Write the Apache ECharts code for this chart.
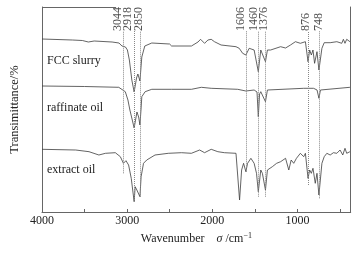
<!DOCTYPE html>
<html>
<head>
<meta charset="utf-8">
<script src="https://cdn.jsdelivr.net/npm/echarts@6/dist/echarts.min.js"></script>
<style>
html,body{margin:0;padding:0;background:#fff;}
#chart{width:356px;height:253px;}
</style>
</head>
<body>
<div id="chart"></div>
<script>
// ---- data (wavenumber cm^-1, transmittance in arbitrary offset units) ----
const fccWave = [4000,3643,3526,3456,3387,3177,3096,3061,3044,3020,2997,2974,2945,2918,2890,2874,2850,2840,2828,2793,2711,2502,2478,2245,2168,2138,2091,2051,2013,1975,1897,1722,1684,1644,1606,1567,1509,1460,1431,1376,1353,1315,1198,1140,1082,1024,966,907,876,857,837,818,799,771,748,713,686,616,538,480,461,442,422,384];
const fccValue = [173,172,171.5,170,171,170,169,166,164,165,162,152,132,120,134,138,131,142,155,166,169,168,166,166,170,172.7,168.7,172,172.7,170.3,167,165.3,163.7,158.7,157,163.7,162,140.3,162,150.3,162,162,165.3,164,167,170.3,168.7,170.3,150.3,162,157,162,148.7,160.3,142,163.7,169.3,169.3,170.3,168.7,172.7,168.7,172.7,170.3];

const raffWave = [4000,3500,3099,3022,2991,2968,2940,2918,2885,2865,2850,2836,2828,2789,2711,2478,2245,2129,2013,1702,1606,1509,1475,1460,1445,1431,1376,1353,927,811,770,748,730,713,384];
const raffValue = [126,125.5,124.7,120.3,112,102,92,84,100,95,87,104,115.3,120.3,122.7,122.7,122.7,124.7,123.7,122.7,121,122,120,95.3,118,120.3,110.3,122,123.7,123.7,122,113.7,122,123.7,124.7];

const extWave = [4000,3604,3448,3332,3255,3139,3080,3044,3014,2983,2952,2918,2906,2886,2850,2836,2808,2770,2673,2517,2362,2342,2246,2149,2091,2013,1935,1858,1722,1702,1680,1656,1633,1606,1586,1547,1509,1481,1460,1431,1412,1376,1353,1295,1245,1198,1140,1102,1074,1044,1012,966,927,907,876,857,837,818,791,771,748,713,686,655,616,578,538,500,468,442,422,384];
const extValue = [62.7,62,60.3,57,58.7,59.3,55.3,48.7,51.3,47,33.7,10.3,25.3,22,15.3,35.3,48.7,52,57,58.7,59.3,60.3,58.7,62,59.3,62.7,60.3,59.3,58.7,57,12,42,48.7,40.3,48.7,53.7,48.7,38.7,20.3,42,38.7,22,42,45.3,48.7,50.3,53.7,42,52,48.7,53.7,58.7,55.3,58.7,33.7,42,38.7,43.7,28.7,38.7,17,48.7,55.3,58.7,57,59.3,58.7,62,57,63.7,58.7,60.3];

const peakWave = [3044,2918,2850,1606,1460,1376,876,748];
const peakLabels = ['3044','2918','2850','1606','1460','1376','876','748'];
const peakLineEnd = [38.7,12,15.3,40.3,15.3,15.3,27,13.7];
const peakLineTop = 181;

const sampleNames = ['FCC slurry','raffinate oil','extract oil'];
const tickValues = [500,1000,1500,2000,2500,3000,3500];
const tickLabelValues = [1000,2000,3000,4000];

const X_MIN = 375, X_MAX = 4000, Y_MIN = 0, Y_MAX = 205;
// horizontal nudges of the rotated peak labels (px), to keep them from overlapping
const peakLabelShift = [-5.4,-6,-1.3,-5,-4,-2,-2,-0.3];

const zip = (a,b) => a.map((w,i)=>[w,b[i]]);
const FONT = '"Liberation Serif","Times New Roman",serif';
const LINE_COLOR = '#3c3c3c';
const AXIS_COLOR = '#666';

const chart = echarts.init(document.getElementById('chart'), null, {renderer:'canvas'});

const traceSeries = [[fccWave,fccValue],[raffWave,raffValue],[extWave,extValue]].map((p,i)=>({
  type:'line', name:sampleNames[i], data:zip(p[0],p[1]), showSymbol:false, symbol:'none',
  lineStyle:{color:LINE_COLOR,width:0.8}, animation:false, z:3
}));

const option = {
  animation:false,
  backgroundColor:'#fff',
  grid:{left:39.3,right:5.3,top:7,bottom:41,containLabel:false},
  xAxis:{
    type:'value', inverse:true, min:X_MIN, max:X_MAX,
    axisLine:{show:true,lineStyle:{color:AXIS_COLOR,width:1}},
    axisTick:{show:true,inside:true,length:3,lineStyle:{color:AXIS_COLOR},customValues:tickValues},
    axisLabel:{show:true,customValues:tickLabelValues,margin:3,color:'#222',fontSize:12,fontFamily:FONT,
      formatter:v=>String(v)},
    splitLine:{show:false},
    name:'Wavenumber    {i|σ} /cm{s|−1}',
    nameLocation:'middle', nameGap:17,
    nameTextStyle:{color:'#222',fontSize:12,fontFamily:FONT,verticalAlign:'top',
      rich:{i:{fontStyle:'italic',fontSize:12,fontFamily:FONT,color:'#222'},
            s:{fontSize:8,fontFamily:FONT,color:'#222',verticalAlign:'top',padding:[0,0,6,0]}}}
  },
  yAxis:[{
    type:'value', min:Y_MIN, max:Y_MAX,
    axisLine:{show:true,lineStyle:{color:AXIS_COLOR,width:1}},
    axisTick:{show:false}, axisLabel:{show:false}, splitLine:{show:false},
    name:'Transimittance/%', nameLocation:'middle', nameGap:21,
    nameTextStyle:{color:'#222',fontSize:12.5,fontFamily:FONT}
  },{
    type:'value', min:Y_MIN, max:Y_MAX, position:'right',
    axisLine:{show:true,onZero:false,lineStyle:{color:AXIS_COLOR,width:1}},
    axisTick:{show:false}, axisLabel:{show:false}, splitLine:{show:false}
  }],
  series:[
    ...traceSeries,
    {
      type:'line', data:[], silent:true, z:2,
      markLine:{
        silent:true, symbol:'none', animation:false,
        lineStyle:{color:'#888',type:'dotted',width:1},
        label:{show:false},
        data:peakWave.map((w,i)=>[{coord:[w,peakLineEnd[i]]},{coord:[w,peakLineTop]}])
      }
    },
    {
      type:'line', data:[], silent:true, z:2,
      markLine:{
        silent:true, symbol:'none', animation:false,
        lineStyle:{color:AXIS_COLOR,type:'solid',width:1},
        label:{show:false},
        data:[[{coord:[X_MAX,Y_MAX]},{coord:[3130,Y_MAX]}]]
      }
    },
    {
      type:'scatter', symbolSize:0, silent:true, z:4,
      data:peakWave.map((w,i)=>({value:[w,peakLineTop],name:peakLabels[i],
        label:{position:[peakLabelShift[i],0]}})),
      label:{show:true,formatter:p=>p.name,rotate:90,align:'left',verticalAlign:'middle',
        color:'#222',fontSize:12,fontFamily:FONT}
    }
  ],
  graphic:[
    {type:'text',x:47,y:61,style:{text:sampleNames[0],fill:'#222',font:'12px '+FONT,verticalAlign:'middle'}},
    {type:'text',x:47,y:108,style:{text:sampleNames[1],fill:'#222',font:'12px '+FONT,verticalAlign:'middle'}},
    {type:'text',x:47,y:170,style:{text:sampleNames[2],fill:'#222',font:'12px '+FONT,verticalAlign:'middle'}}
  ]
};
chart.setOption(option);
</script>
</body>
</html>
